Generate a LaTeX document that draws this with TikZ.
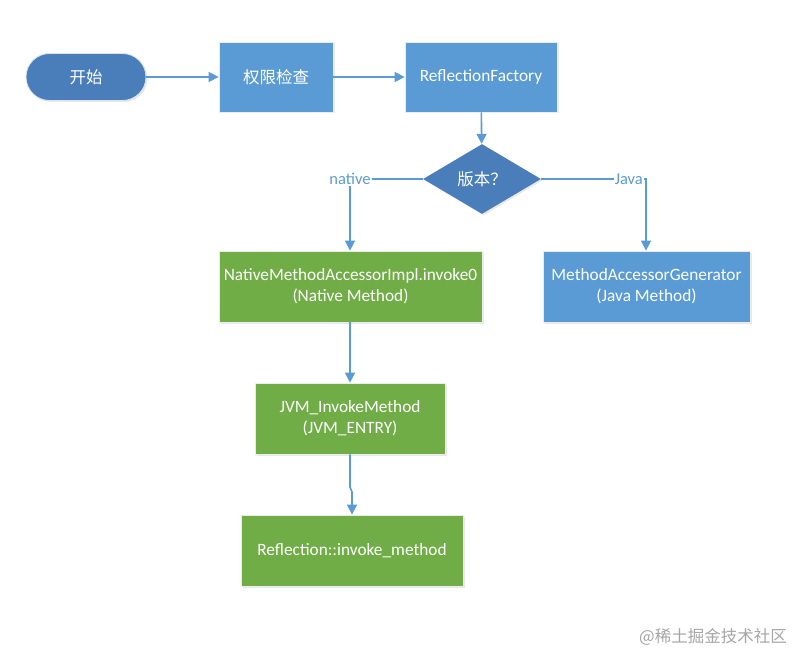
\documentclass[tikz,border=0pt]{standalone}
\usepackage{fontspec}
\setmainfont{Carlito}
\newfontfamily\cjk{Noto Sans CJK SC}
\usetikzlibrary{arrows.meta,shapes.geometric,shadows}
\definecolor{boxblue}{HTML}{5B9BD5}
\definecolor{darkblue}{HTML}{4A7EBB}
\definecolor{boxgreen}{HTML}{70AD47}
\definecolor{linecol}{HTML}{5B9BD5}
\tikzset{
  base/.style={draw=white!85!gray, line width=0.8pt, text=white, font=\fontsize{17.3}{21}\selectfont, align=center, inner sep=0pt,
    drop shadow={opacity=0.18, shadow xshift=1.5pt, shadow yshift=-1.5pt}},
  bluebox/.style={base, fill=boxblue},
  greenbox/.style={base, fill=boxgreen},
  pill/.style={base, fill=darkblue, rounded corners=23.5pt, draw=white!80!darkblue},
  decide/.style={base, fill=darkblue, diamond, aspect=1.69, draw=none},
  conn/.style={draw=linecol, line width=1.6pt, -{Triangle[length=10pt,width=10pt]}},
  lbl/.style={fill=white, text=linecol, font=\fontsize{16.5}{18}\selectfont, inner sep=1pt}
}
\begin{document}
\begin{tikzpicture}[x=1pt,y=-1pt]
\useasboundingbox[fill=white] (0,0) rectangle (806,666);
\node[pill, minimum width=120pt, minimum height=47pt] (start) at (86,77) {\cjk\fontsize{16.5}{18}\selectfont 开始};
\node[bluebox, minimum width=114pt, minimum height=70pt] (perm) at (276,77) {\cjk\fontsize{16.5}{18}\selectfont 权限检查};
\node[bluebox, minimum width=152pt, minimum height=70pt] (rf) at (481,77) {ReflectionFactory};
\node[decide, minimum width=118pt, minimum height=70pt] (ver) at (482,179) {\cjk\fontsize{16.5}{18}\selectfont 版本？};
\node[greenbox, minimum width=263pt, minimum height=71pt] (nat) at (350.5,286.5) {NativeMethodAccessorImpl.invoke0\\(Native Method)};
\node[bluebox, minimum width=207pt, minimum height=71pt] (gen) at (646.5,286.5) {MethodAccessorGenerator\\(Java Method)};
\node[greenbox, minimum width=190pt, minimum height=71pt] (jvm) at (350,418.5) {JVM\_InvokeMethod\\(JVM\_ENTRY)};
\node[greenbox, minimum width=222pt, minimum height=71pt] (refl) at (352,550.5) {Reflection::invoke\_method};
\coordinate (cn) at (350,179);
\coordinate (cj) at (646,179);
\coordinate (k1) at (350,487);
\coordinate (k2) at (352,492);
\draw[conn] (start) -- (perm);
\draw[conn] (perm) -- (rf);
\draw[conn] (rf) -- (ver);
\draw[conn] (ver.west) -- (cn) -- (nat.north-|cn);
\node[lbl] (ln) at (cn) {native};
\draw[conn] (ver.east) -- (cj) -- (gen.north-|cj);
\node[lbl, anchor=east] (lj) at (644,179) {Java};
\draw[conn] (nat.south-|jvm) -- (jvm);
\draw[conn] (jvm.south) -- (k1) -- (k2) -- (refl.north);
\node[text=gray!70, font=\cjk\fontsize{16.5}{18}\selectfont] (wm) at (713,637) {@稀土掘金技术社区};
\end{tikzpicture}
\end{document}
